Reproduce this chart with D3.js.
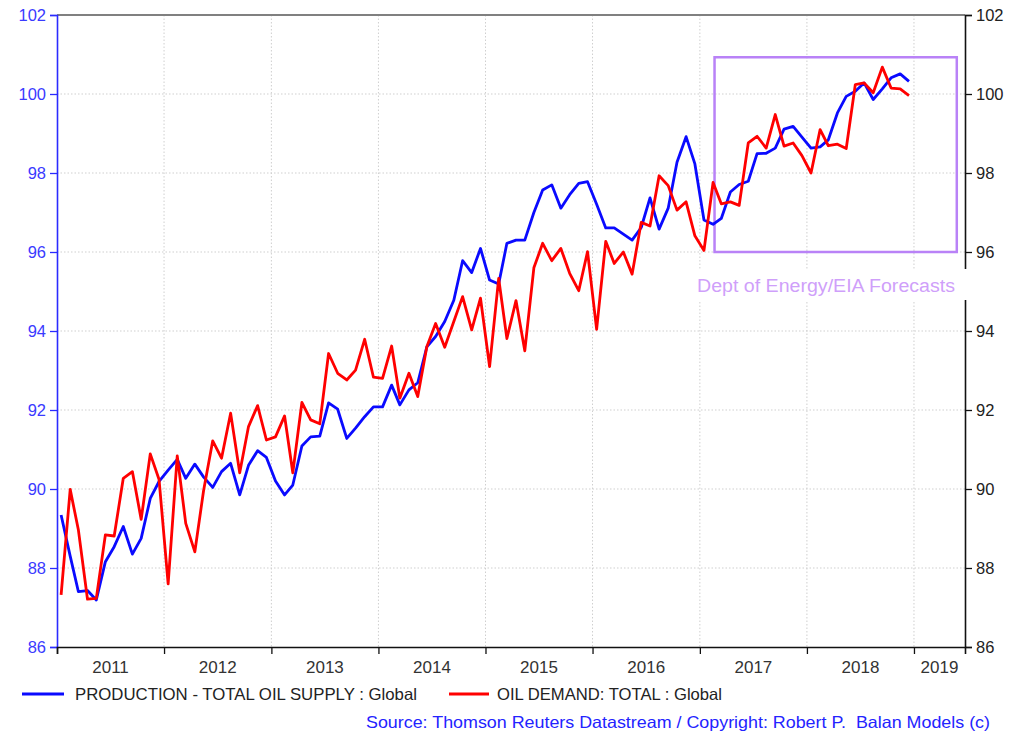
<!DOCTYPE html>
<html lang="en">
<head>
    <meta charset="UTF-8">
    <title>Oil supply vs demand</title>
    <style>
        body { margin: 0; background: #fff; }
    </style>
</head>
<body>

    <svg id="svg" width="1025" height="734"></svg>

    <script src="https://d3js.org/d3.v7.min.js"></script>
    <script>
        // monthly values, Jan 2011 .. Dec 2018 (mb/d)
        const supply = [
            89.34, 88.3, 87.4, 87.43, 87.19, 88.16, 88.54, 89.05, 88.35, 88.75, 89.76, 90.19,
            90.48, 90.75, 90.27, 90.63, 90.3, 90.04, 90.44, 90.65, 89.85, 90.6, 90.97, 90.8,
            90.2, 89.85, 90.1, 91.09, 91.32, 91.34, 92.18, 92.02, 91.28, 91.54, 91.83, 92.08,
            92.08, 92.63, 92.13, 92.51, 92.69, 93.6, 93.86, 94.24, 94.78, 95.78, 95.48, 96.09,
            95.29, 95.19, 96.22, 96.3, 96.3, 97.0, 97.57, 97.7, 97.11, 97.45, 97.74, 97.78,
            97.21, 96.61, 96.61, 96.45, 96.3, 96.62, 97.37, 96.58, 97.11, 98.27, 98.92, 98.23,
            96.81, 96.7, 96.85, 97.52, 97.71, 97.79, 98.49, 98.5, 98.63, 99.11, 99.18, 98.91,
            98.63, 98.66, 98.84, 99.52, 99.94, 100.07, 100.28, 99.86, 100.13, 100.41, 100.51, 100.32
        ]
        const demand = [
            87.32, 89.99, 88.96, 87.21, 87.23, 88.84, 88.81, 90.27, 90.44, 89.23, 90.89, 90.24,
            87.6, 90.84, 89.13, 88.41, 89.97, 91.22, 90.78, 91.92, 90.41, 91.58, 92.11, 91.24,
            91.32, 91.85, 90.41, 92.19, 91.75, 91.65, 93.43, 92.93, 92.76, 93.01, 93.79, 92.83,
            92.8, 93.62, 92.3, 92.93, 92.34, 93.6, 94.19, 93.59, 94.24, 94.87, 94.03, 94.83,
            93.1, 95.33, 93.81, 94.77, 93.5, 95.6, 96.22, 95.78, 96.09, 95.46, 95.02, 96.01,
            94.04, 96.27, 95.71, 96.0, 95.44, 96.75, 96.66, 97.93, 97.68, 97.06, 97.27, 96.41,
            96.04, 97.76, 97.22, 97.27, 97.18, 98.76, 98.93, 98.63, 99.48, 98.68, 98.76, 98.44,
            98.0, 99.1, 98.69, 98.73, 98.62, 100.24, 100.28, 100.03, 100.68, 100.15, 100.13, 99.96
        ]
        const years = [2011, 2012, 2013, 2014, 2015, 2016, 2017, 2018, 2019]
        const yTicks = [86, 88, 90, 92, 94, 96, 98, 100, 102]
        const forecastDates = ['2017-02-20', '2019-05-27']
        const forecastRange = [96, 100.93]
        const seriesNames = ['PRODUCTION - TOTAL OIL SUPPLY : Global', 'OIL DEMAND: TOTAL : Global']
        const seriesColors = ['#0a0aff', '#ff0000']
        const sourceText = 'Source: Thomson Reuters Datastream / Copyright: Robert P.\u00a0 Balan Models (c)'

        const plotLeft = 57, plotRight = 965, plotTop = 15, plotBottom = 647
        const narrow = '"Liberation Sans Narrow", "Arial Narrow", "Liberation Sans", Arial, sans-serif'
        const regular = '"Liberation Sans", Arial, sans-serif'

        // mid-month dates for the data
        const months = d3.range(supply.length).map(i => new Date(2011, i, 15))

        const xScale = d3.scaleTime()
            .domain([new Date(2011, 0, 1), new Date(2019, 5, 24)])
            .range([plotLeft, plotRight])

        const yScale = d3.scaleLinear()
            .domain([86, 102])
            .range([plotBottom, plotTop])

        const svg = d3.select('#svg')

        // grid
        const grid = svg.append('g')
            .attr('stroke', '#cfcfcf')
            .attr('stroke-dasharray', '1.5,2')
            .attr('stroke-width', 1)
        grid.selectAll('.hg')
            .data(yTicks.filter(v => v > 86 && v < 102))
            .enter()
            .append('line')
            .attr('x1', plotLeft).attr('x2', plotRight)
            .attr('y1', d => yScale(d)).attr('y2', d => yScale(d))
        grid.selectAll('.vg')
            .data(years.slice(1))
            .enter()
            .append('line')
            .attr('x1', d => xScale(new Date(d, 0, 1))).attr('x2', d => xScale(new Date(d, 0, 1)))
            .attr('y1', plotTop).attr('y2', plotBottom)

        // top border
        svg.append('line')
            .attr('x1', plotLeft).attr('x2', plotRight)
            .attr('y1', plotTop).attr('y2', plotTop)
            .attr('stroke', '#808080')
            .attr('stroke-width', 2)

        // forecast box
        svg.append('rect')
            .attr('x', xScale(new Date(forecastDates[0])))
            .attr('y', yScale(forecastRange[1]))
            .attr('width', xScale(new Date(forecastDates[1])) - xScale(new Date(forecastDates[0])))
            .attr('height', yScale(forecastRange[0]) - yScale(forecastRange[1]))
            .attr('fill', 'none')
            .attr('stroke', '#b982f7')
            .attr('stroke-width', 2.5)

        // lines
        const line = d3.line()
            .x((d, i) => xScale(months[i]))
            .y(d => yScale(d))

        ;[supply, demand].forEach((s, k) => {
            svg.append('path')
                .attr('d', line(s))
                .attr('fill', 'none')
                .attr('stroke', seriesColors[k])
                .attr('stroke-width', 2.8)
                .attr('stroke-linejoin', 'round')
        })

        // left axis (blue)
        const minorY = d3.range(86, 102.01, 0.4)
        const gl = svg.append('g').attr('transform', `translate(${plotLeft},0)`)
        gl.call(d3.axisLeft(yScale).tickValues(minorY).tickSize(4).tickFormat(''))
        gl.call(d3.axisLeft(yScale).tickValues(yTicks).tickSize(7).tickPadding(4))
        gl.selectAll('path.domain').attr('stroke', '#2b2bff').attr('stroke-width', 1.6)
        gl.selectAll('line').attr('stroke', '#2b2bff').attr('stroke-width', 1.3)
        gl.selectAll('text')
            .attr('fill', '#3a3aff')
            .style('font-family', regular)
            .style('font-size', '16.5px')

        // right axis (black)
        const gr = svg.append('g').attr('transform', `translate(${plotRight},0)`)
        gr.call(d3.axisRight(yScale).tickValues(minorY).tickSize(4).tickFormat(''))
        gr.call(d3.axisRight(yScale).tickValues(yTicks).tickSize(7).tickPadding(4))
        gr.selectAll('path.domain').attr('stroke', '#111').attr('stroke-width', 1.6)
        gr.selectAll('line').attr('stroke', '#111').attr('stroke-width', 1.3)
        gr.selectAll('text')
            .attr('fill', '#222')
            .style('font-family', regular)
            .style('font-size', '16.5px')

        // bottom axis
        const gb = svg.append('g').attr('transform', `translate(0,${plotBottom})`)
        gb.call(d3.axisBottom(xScale)
            .tickValues(d3.timeMonth.every(3).range(new Date(2011, 0, 1), new Date(2019, 5, 2)))
            .tickSize(4).tickFormat(''))
        gb.call(d3.axisBottom(xScale)
            .tickValues(years.map(y => new Date(y, 0, 1)))
            .tickSize(7).tickFormat(''))
        gb.selectAll('path.domain').attr('stroke', '#111').attr('stroke-width', 1.6)
        gb.selectAll('line').attr('stroke', '#111').attr('stroke-width', 1.3)

        svg.append('g')
            .selectAll('text')
            .data(years)
            .enter()
            .append('text')
            .text(d => d)
            .attr('x', d => (xScale(new Date(d, 0, 1)) + Math.min(xScale(new Date(d + 1, 0, 1)), plotRight)) / 2)
            .attr('y', 673)
            .attr('text-anchor', 'middle')
            .attr('fill', '#333')
            .style('font-family', narrow)
            .style('font-size', '17px')

        // forecast label, white backing hides the right axis
        svg.append('rect')
            .attr('x', 692).attr('y', 269)
            .attr('width', 283).attr('height', 31)
            .attr('fill', '#fff')
        svg.append('text')
            .text('Dept of Energy/EIA Forecasts')
            .attr('x', 697)
            .attr('y', 292)
            .attr('fill', '#cf9ffa')
            .attr('textLength', 258)
            .attr('lengthAdjust', 'spacingAndGlyphs')
            .style('font-family', regular)
            .style('font-size', '18px')

        // legend
        const legendX = [[22, 64, 75, 342], [449, 489, 497, 225]]
        legendX.forEach((p, k) => {
            svg.append('line')
                .attr('x1', p[0]).attr('x2', p[1])
                .attr('y1', 694).attr('y2', 694)
                .attr('stroke', seriesColors[k])
                .attr('stroke-width', 3)
            svg.append('text')
                .text(seriesNames[k])
                .attr('x', p[2])
                .attr('y', 700)
                .attr('fill', '#222')
                .attr('textLength', p[3])
                .attr('lengthAdjust', 'spacingAndGlyphs')
                .style('font-family', narrow)
                .style('font-size', '16.5px')
        })

        svg.append('text')
            .text(sourceText)
            .attr('x', 366)
            .attr('y', 728)
            .attr('fill', '#2323ff')
            .attr('textLength', 624)
            .attr('lengthAdjust', 'spacingAndGlyphs')
            .style('font-family', narrow)
            .style('font-size', '16.5px')
    </script>
</body>
</html>
